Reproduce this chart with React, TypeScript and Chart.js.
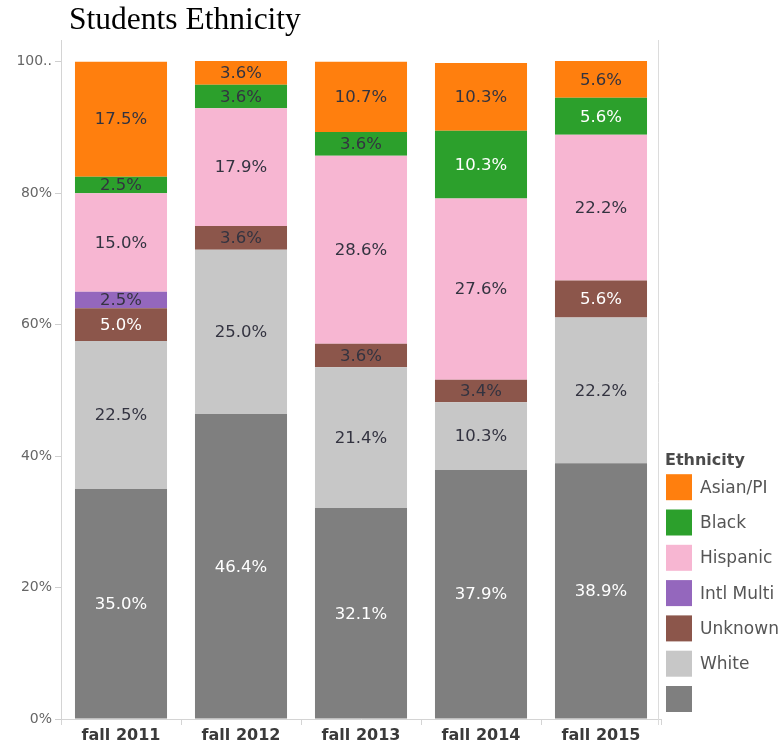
import React, { useEffect, useRef } from 'react';
import { Chart, registerables } from 'chart.js';

Chart.register(...registerables);

const categories = ['fall 2011', 'fall 2012', 'fall 2013', 'fall 2014', 'fall 2015'];
const otherValues = [35.0, 46.4, 32.1, 37.9, 38.9];
const whiteValues = [22.5, 25.0, 21.4, 10.3, 22.2];
const unknownValues = [5.0, 3.6, 3.6, 3.4, 5.6];
const intlMultiValues = [2.5, null, null, null, null];
const hispanicValues = [15.0, 17.9, 28.6, 27.6, 22.2];
const blackValues = [2.5, 3.6, 3.6, 10.3, 5.6];
const asianValues = [17.5, 3.6, 10.7, 10.3, 5.6];
const yTicks = [0, 20, 40, 60, 80, 100];
const legendTitle = 'Ethnicity';
const chartTitle = 'Students Ethnicity';

const FONT = '"DejaVu Sans", Verdana, sans-serif';

const series = [
  { label: '', data: otherValues, color: '#7f7f7f', dark: true },
  { label: 'White', data: whiteValues, color: '#c7c7c7', dark: false },
  { label: 'Unknown', data: unknownValues, color: '#8c564b', dark: true },
  { label: 'Intl Multi', data: intlMultiValues, color: '#9467bd', dark: false },
  { label: 'Hispanic', data: hispanicValues, color: '#f7b6d2', dark: false },
  { label: 'Black', data: blackValues, color: '#2ca02c', dark: true },
  { label: 'Asian/PI', data: asianValues, color: '#ff7f0e', dark: false },
];

const dataLabelPlugin = {
  id: 'segLabels',
  afterDatasetsDraw(chart: any) {
    const ctx = chart.ctx;
    ctx.save();
    ctx.font = `16.5px ${FONT}`;
    ctx.textAlign = 'center';
    ctx.textBaseline = 'middle';
    chart.data.datasets.forEach((ds: any, di: number) => {
      const meta = chart.getDatasetMeta(di);
      meta.data.forEach((el: any, i: number) => {
        const v = ds.data[i];
        if (v == null || v === 0) return;
        const s = series[di];
        ctx.fillStyle = s.dark && v >= 5 ? '#ffffff' : '#333340';
        ctx.fillText(v.toFixed(1) + '%', el.x, (el.y + el.base) / 2 + 1);
      });
    });
    ctx.restore();
  },
};

const framePlugin = {
  id: 'frame',
  afterDraw(chart: any) {
    const { ctx, chartArea } = chart;
    ctx.save();
    ctx.strokeStyle = '#dcdcdc';
    ctx.lineWidth = 1;
    ctx.beginPath();
    ctx.moveTo(Math.round(chartArea.right) - 2.5, chartArea.top);
    ctx.lineTo(Math.round(chartArea.right) - 2.5, chartArea.bottom + 6);
    ctx.stroke();
    ctx.restore();
  },
};

const legendPlugin = {
  id: 'sideLegend',
  afterDraw(chart: any) {
    const { ctx, chartArea } = chart;
    const items = chart.data.datasets.slice().reverse();
    const box = 26;
    const step = 35.3;
    const x0 = chartArea.right + 5;
    const lastTop = chartArea.bottom - 7 - box;
    const firstTop = lastTop - step * (items.length - 1);
    ctx.save();
    ctx.textBaseline = 'middle';
    ctx.textAlign = 'left';
    ctx.font = `bold 16px ${FONT}`;
    ctx.fillStyle = '#4a4a4a';
    ctx.fillText(legendTitle, x0 - 1, firstTop - 13);
    ctx.font = `17px ${FONT}`;
    items.forEach((ds: any, i: number) => {
      const top = firstTop + i * step;
      ctx.fillStyle = ds.backgroundColor;
      ctx.fillRect(x0, top, box, box);
      ctx.fillStyle = '#555555';
      ctx.fillText(ds.label, x0 + box + 8, top + box / 2 + 1);
    });
    ctx.restore();
  },
};

export default function App() {
  const ref = useRef<HTMLCanvasElement | null>(null);

  useEffect(() => {
    document.body.style.margin = '0';
    document.documentElement.style.overflow = 'hidden';
    const canvas = ref.current;
    if (!canvas) return;
    const chart = new Chart(canvas, {
      type: 'bar',
      data: {
        labels: categories,
        datasets: series.map((s) => ({
          label: s.label,
          data: s.data as any,
          backgroundColor: s.color,
          borderWidth: 0,
          barPercentage: 0.767,
          categoryPercentage: 1,
        })),
      },
      options: {
        animation: false,
        responsive: false,
        maintainAspectRatio: false,
        layout: { padding: { top: 40, right: 122, left: 0, bottom: 0 } },
        plugins: {
          legend: { display: false },
          tooltip: { enabled: false },
          title: { display: false },
        },
        scales: {
          x: {
            stacked: true,
            grid: {
              offset: true,
              drawOnChartArea: false,
              drawTicks: true,
              tickLength: 6,
              color: '#d4d4d4',
            },
            border: { display: true, color: '#d4d4d4' },
            ticks: {
              color: '#3a3a3a',
              font: { family: FONT, size: 16, weight: 'bold' },
              padding: 1,
              maxRotation: 0,
            },
            afterFit(scale: any) {
              scale.height = 27;
            },
          },
          y: {
            stacked: true,
            min: 0,
            max: 103.3,
            grid: {
              drawOnChartArea: false,
              drawTicks: true,
              tickLength: 6,
              color: '#cfcfcf',
            },
            border: { display: true, color: '#d4d4d4' },
            ticks: {
              color: '#666666',
              font: { family: FONT, size: 14 },
              padding: 3,
              callback: (v: any) => (v === 100 ? '100..' : v + '%'),
            },
            afterBuildTicks(scale: any) {
              scale.ticks = yTicks.map((v) => ({ value: v }));
            },
            afterFit(scale: any) {
              scale.width = 61;
            },
          },
        },
      },
      plugins: [dataLabelPlugin, framePlugin, legendPlugin],
    });
    return () => chart.destroy();
  }, []);

  return (
    <div style={{ position: 'relative', width: 783, height: 746, overflow: 'hidden', background: '#fff' }}>
      <canvas ref={ref} width={783} height={746} style={{ position: 'absolute', left: 0, top: 0, width: 783, height: 746 }} />
      <div
        style={{
          position: 'absolute',
          left: 69,
          top: 1,
          fontFamily: '"Liberation Serif", "Times New Roman", serif',
          fontSize: 31.5,
          lineHeight: '36px',
          whiteSpace: 'nowrap',
          color: '#000',
        }}
      >
        {chartTitle}
      </div>
    </div>
  );
}
